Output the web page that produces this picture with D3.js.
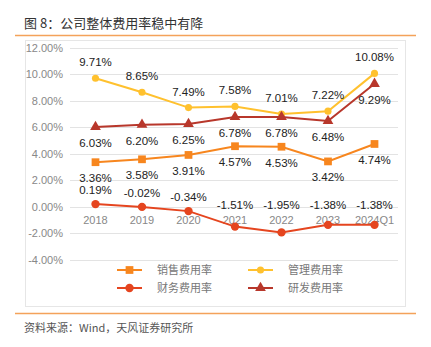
<!DOCTYPE html>
<html><head><meta charset="utf-8">
<script src="https://cdn.jsdelivr.net/npm/d3@7"></script>
<style>
body{margin:0;background:#fff;}
svg{display:block;font-family:"Liberation Sans","Noto Sans CJK SC",Arial,sans-serif;}
</style></head>
<body><svg id="c" width="431" height="347"></svg>
<script>
const categories = ["2018","2019","2020","2021","2022","2023","2024Q1"];
const sales   = [3.36,3.58,3.91,4.57,4.53,3.42,4.74];
const admin   = [9.71,8.65,7.49,7.58,7.01,7.22,10.08];
const finance = [0.19,-0.02,-0.34,-1.51,-1.95,-1.38,-1.38];
const rnd     = [6.03,6.20,6.25,6.78,6.78,6.48,9.29];
const yTicks  = [-4,-2,0,2,4,6,8,10,12];

const svg = d3.select("#c");
const cjk = '"Noto Sans CJK SC","Liberation Sans",sans-serif';

svg.append("text").attr("x",24).attr("y",28).attr("font-size",13).attr("fill","#333")
  .style("font-family",cjk).text("图 8：公司整体费用率稳中有降");
svg.append("line").attr("x1",15).attr("x2",416).attr("y1",35.5).attr("y2",35.5)
  .attr("stroke","#F4A25A").attr("stroke-width",1.5);
svg.append("rect").attr("x",25.5).attr("y",40.5).attr("width",380).attr("height",266)
  .attr("fill","#fff").attr("stroke","#e6e6e6");
svg.append("line").attr("x1",15).attr("x2",416).attr("y1",313.5).attr("y2",313.5)
  .attr("stroke","#F4A25A").attr("stroke-width",1.5);
svg.append("text").attr("x",24).attr("y",332).attr("font-size",11).attr("fill","#555")
  .style("font-family",cjk).text("资料来源：Wind，天风证券研究所");

const x = d3.scalePoint().domain(categories).range([95.5,374.5]);
const y = d3.scaleLinear().domain([-4,12]).range([259.5,48]);

// gridlines
svg.append("g").selectAll("line").data(yTicks).join("line")
  .attr("x1",70).attr("x2",398)
  .attr("y1",d=>Math.round(y(d))+0.5).attr("y2",d=>Math.round(y(d))+0.5)
  .attr("stroke","#e3e3e3").attr("stroke-width",1);
svg.append("g").selectAll("text").data(yTicks).join("text")
  .attr("x",63).attr("y",d=>y(d)+4).attr("text-anchor","end")
  .attr("font-size",11).attr("fill","#888").text(d=>d.toFixed(2)+"%");
// category labels
svg.append("g").selectAll("text").data(categories).join("text")
  .attr("x",d=>x(d)).attr("y",y(0)+17).attr("text-anchor","middle")
  .attr("font-size",11).attr("fill","#888").text(d=>d);

const series = [
  {name:"销售费用率", vals:sales, color:"#F7861E", sym:d3.symbolSquare, size:60, lab:"below"},
  {name:"管理费用率", vals:admin, color:"#FFC12E", sym:d3.symbolCircle, size:40, lab:"above"},
  {name:"财务费用率", vals:finance, color:"#E5451F", sym:d3.symbolCircle, size:55, lab:"fin"},
  {name:"研发费用率", vals:rnd, color:"#B8372B", sym:d3.symbolTriangle, size:50, lab:"below"}
];
const line = d3.line().x((d,i)=>x(categories[i])).y(d=>y(d));

series.forEach(s=>{
  const g = svg.append("g");
  g.append("path").attr("d",line(s.vals)).attr("fill","none")
    .attr("stroke",s.color).attr("stroke-width",2);
  g.selectAll("path.m").data(s.vals).join("path").attr("class","m")
    .attr("transform",(d,i)=>`translate(${x(categories[i])},${y(d)})`)
    .attr("d",d3.symbol().type(s.sym).size(s.size)).attr("fill",s.color);
  g.selectAll("text").data(s.vals).join("text")
    .attr("x",(d,i)=>x(categories[i]))
    .attr("y",d=>{
      const py=y(d);
      if(s.lab==="above") return py-12;
      if(s.lab==="below") return py+20;
      return Math.min(py-10, y(0)+2);
    })
    .attr("text-anchor","middle").attr("font-size",11.5).attr("fill","#222")
    .text(d=>d.toFixed(2)+"%");
});

// legend
const lg = [[117,270],[248,270],[117,288],[248,288]];
const order = [0,1,2,3];
order.forEach((k,i)=>{
  const s = series[k], [lx,ly]=lg[i];
  svg.append("line").attr("x1",lx).attr("x2",lx+25).attr("y1",ly).attr("y2",ly)
    .attr("stroke",s.color).attr("stroke-width",2);
  svg.append("path").attr("transform",`translate(${lx+12.5},${ly})`)
    .attr("d",d3.symbol().type(s.sym).size(s.size)).attr("fill",s.color);
  svg.append("text").attr("x",lx+40).attr("y",ly+4).attr("font-size",11).attr("fill","#777")
    .style("font-family",cjk).text(s.name);
});
</script></body></html>
